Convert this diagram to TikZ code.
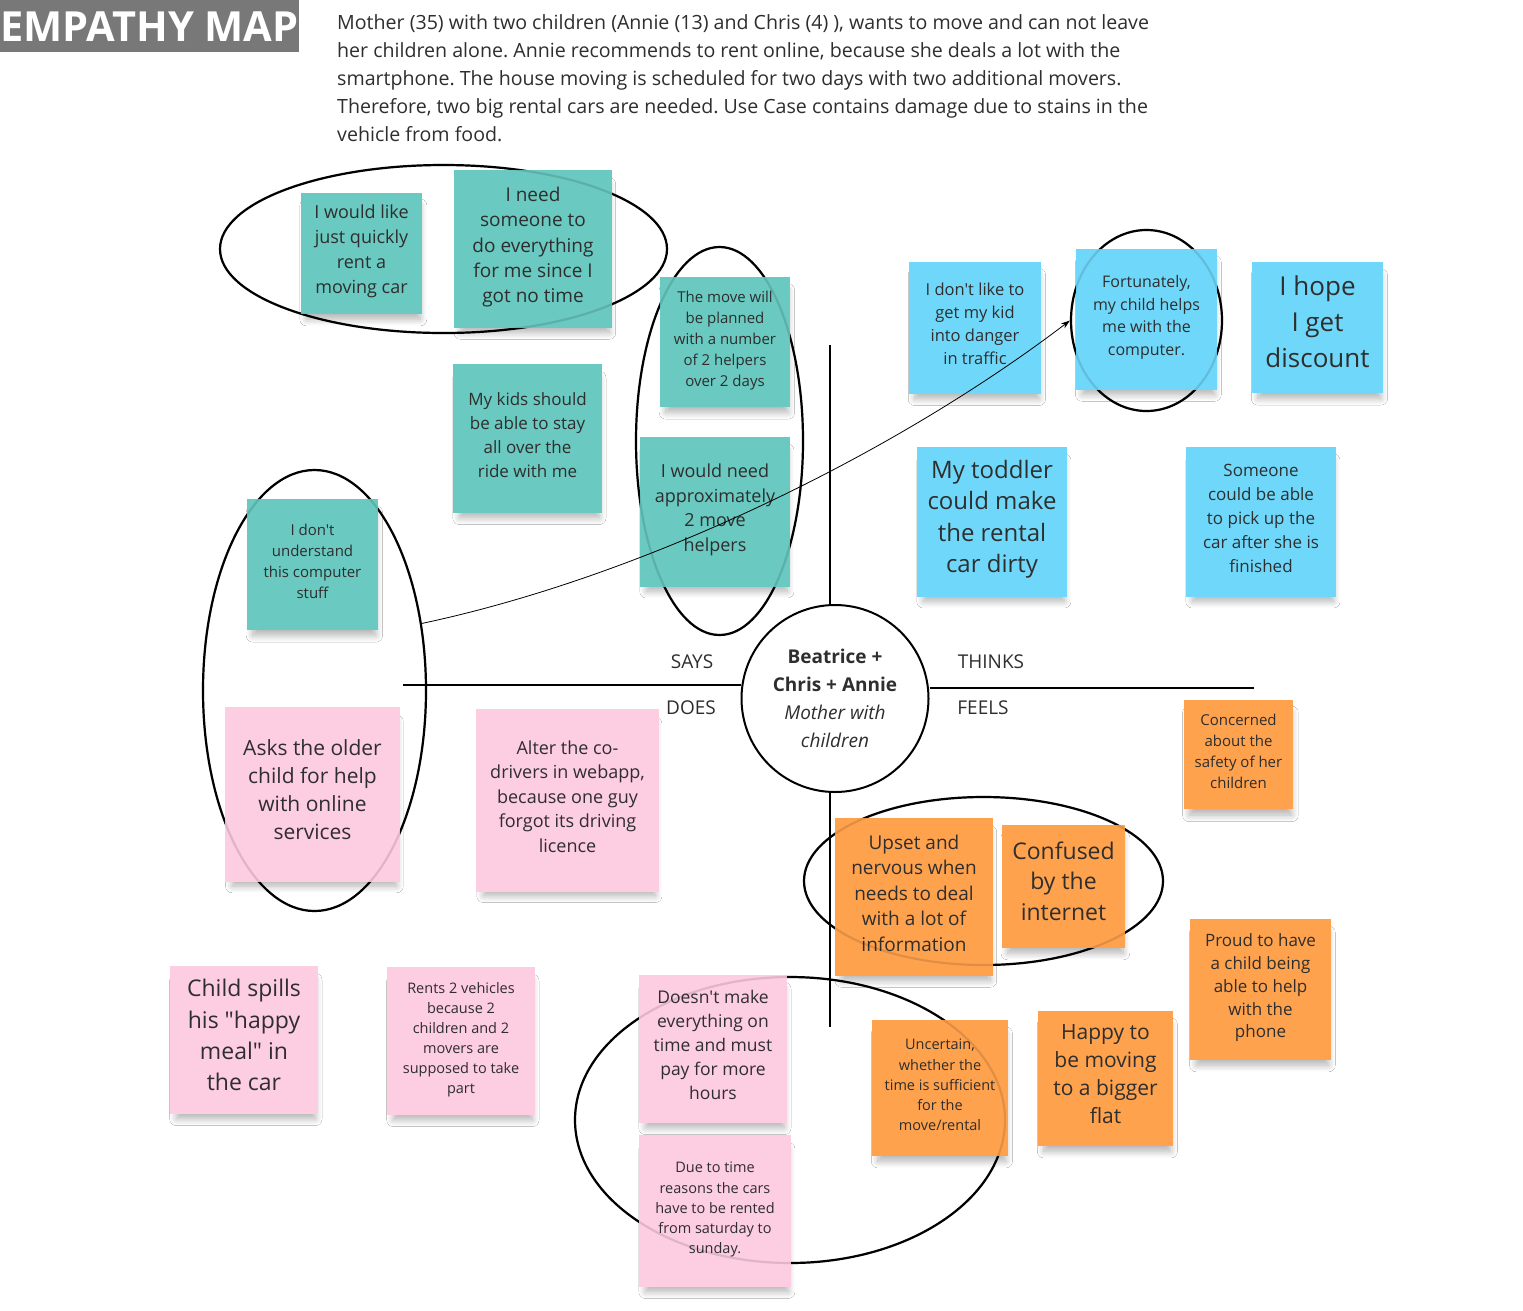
\documentclass[tikz,border=0pt]{standalone}
\usepackage{fontspec}
\setmainfont{Open Sans}[Ligatures=TeXOff]
\usetikzlibrary{shapes.geometric,arrows.meta,shadows.blur}
\definecolor{tealnote}{HTML}{6AC9C0}
\definecolor{bluenote}{HTML}{6FD8FA}
\definecolor{pinknote}{HTML}{FDCDE2}
\definecolor{orangenote}{HTML}{FFA24D}
\definecolor{ink}{HTML}{2E2E2E}
\definecolor{titlegray}{HTML}{787878}
\newcommand{\fsz}[2]{\fontsize{#1}{#2}\selectfont}
\frenchspacing
\begin{document}
\begin{tikzpicture}[x=1pt,y=-1pt,
  sticky/.style={minimum size=#1, inner sep=0pt, align=center, text=ink,
    blur shadow={shadow xshift=2pt, shadow yshift=-10pt, shadow opacity=30, shadow scale=0.94, shadow blur radius=7pt, shadow blur steps=12}},
  fnt/.style 2 args={font=\fsz{#1}{#2}, text depth={0.43*#1 pt}},
  tealst/.style={sticky=#1, fill=tealnote},
  bluest/.style={sticky=#1, fill=bluenote},
  pinkst/.style={sticky=#1, fill=pinknote},
  orangest/.style={sticky=#1, fill=orangenote},
  ring/.style={ellipse, draw=black, line width=2.2pt, inner sep=0pt},
  ghost/.style={draw opacity=0.12},
  ringA/.style={ring, minimum width=447, minimum height=168},
  ringB/.style={ring, minimum width=167, minimum height=388},
  ringC/.style={ring, minimum width=223, minimum height=441},
  ringD/.style={ring, minimum width=151, minimum height=181},
  ringE/.style={ring, minimum width=359, minimum height=168},
  ringF/.style={ring, minimum width=430, minimum height=286},
  axis/.style={draw=black, line width=1.8pt},
  quad/.style={font=\fsz{19}{22}, text=ink},
]
\useasboundingbox (0,0) rectangle (1523,1310);
\fill[white] (0,0) rectangle (1523,1310);

% title and description
\node[fill=titlegray, text=white, font=\fsz{41.5}{41}\bfseries, minimum width=298, minimum height=52, inner sep=0pt, anchor=north west] (title) at (0,0) {EMPATHY MAP};
\node[anchor=west, align=left, text=ink, font=\fsz{19.6}{28}, inner sep=0pt] (desc) at (337,78) {Mother (35) with two children (Annie (13) and Chris (4) ), wants to move and can not leave\\her children alone. Annie recommends to rent online, because she deals a lot with the\\smartphone. The house moving is scheduled for two days with two additional movers.\\Therefore, two big rental cars are needed. Use Case contains damage due to stains in the\\vehicle from food.};

% ellipses
\node[ringA] (e1) at (443.5,249) {};
\node[ringB] (e2) at (719.5,441) {};
\node[ringC] (e3) at (314.5,690.5) {};
\node[ringD] (e4) at (1146.5,320.5) {};
\node[ringE] (e5) at (983.5,881) {};
\node[ringF] (e6) at (790,1120) {};

% axes and centre
\node[circle, draw=black, line width=2pt, fill=white, minimum size=187, inner sep=0pt, align=center, text=ink, font=\fsz{19}{28}] (c) at (835,698.5) {\textbf{Beatrice +}\\\textbf{Chris + Annie}\\\textit{Mother with}\\\textit{children}};
\coordinate (vt) at (830,345);
\coordinate (vb) at (830,1027);
\coordinate (hl) at (403,685);
\coordinate (hr) at (1254,688);
\draw[axis] (vt) -- (vt |- c.north);
\draw[axis] (vb) -- (vb |- c.south);
\draw[axis] (hl) -- (hl -| c.west);
\draw[axis] (hr -| c.east) -- (hr);
\node[quad] (says) at (692,662) {SAYS};
\node[quad] (thinks) at (991,662) {THINKS};
\node[quad] (does) at (691,708) {DOES};
\node[quad] (feels) at (983,708) {FEELS};

% SAYS
\node[tealst=121, fnt={18}{25}] (n1) at (361.5,253) {I would like\\just quickly\\rent a\\moving car};
\node[tealst=158, fnt={19}{25.3}] (n2) at (533,249) {I need\\someone to\\do everything\\for me since I\\got no time};
\node[tealst=130, fnt={15}{21}] (n3) at (725,342) {The move will\\be planned\\with a number\\of 2 helpers\\over 2 days};
\node[tealst=149, fnt={17}{24}] (n4) at (527.5,438.5) {My kids should\\be able to stay\\all over the\\ride with me};
\node[tealst=150, fnt={18}{24.5}] (n5) at (715,511.5) {I would need\\approximately\\2 move\\helpers};
\node[tealst=131, fnt={15}{21}] (n6) at (312.5,564.5) {I don't\\understand\\this computer\\stuff};

% THINKS
\node[bluest=132, fnt={16.5}{23}] (n7) at (975,327.5) {I don't like to\\get my kid\\into danger\\in traffic};
\node[bluest=141, fnt={16}{22.7}] (n8) at (1146.5,319) {Fortunately,\\my child helps\\me with the\\computer.};
\node[bluest=131, fnt={26}{36}] (n9) at (1317.5,327.5) {I hope\\I get\\discount};
\node[bluest=150, fnt={24}{31.3}] (n10) at (992,521.5) {My toddler\\could make\\the rental\\car dirty};
\node[bluest=150, fnt={17}{24}] (n11) at (1261,521.5) {Someone\\could be able\\to pick up the\\car after she is\\finished};

% DOES
\node[pinkst=175, fnt={21}{28}] (n12) at (312.5,794.5) {Asks the older\\child for help\\with online\\services};
\node[pinkst=183, fnt={18}{24.5}] (n13) at (567.5,800.5) {Alter the co-\\drivers in webapp,\\because one guy\\forgot its driving\\licence};
\node[pinkst=148, fnt={23}{31.3}] (n14) at (244,1040) {Child spills\\his "happy\\meal" in\\the car};
\node[pinkst=148, fnt={14.5}{20}] (n15) at (461,1041) {Rents 2 vehicles\\because 2\\children and 2\\movers are\\supposed to take\\part};
\node[pinkst=148, fnt={17.5}{24}] (n16) at (713,1049) {Doesn't make\\everything on\\time and must\\pay for more\\hours};
\node[pinkst=152, fnt={14.5}{20.2}] (n17) at (715,1211) {Due to time\\reasons the cars\\have to be rented\\from saturday to\\sunday.};

% FEELS
\node[orangest=109, fnt={15}{21}] (n18) at (1238.5,754.5) {Concerned\\about the\\safety of her\\children};
\node[orangest=158, fnt={19}{25.5}] (n19) at (914,897) {Upset and\\nervous when\\needs to deal\\with a lot of\\information};
\node[orangest=123, fnt={23}{30.5}] (n20) at (1063.5,886) {Confused\\by the\\internet};
\node[orangest=141, fnt={17}{22.8}] (n21) at (1260.5,989.5) {Proud to have\\a child being\\able to help\\with the\\phone};
\node[orangest=136, fnt={14.5}{20.2}] (n22) at (940,1088) {Uncertain,\\whether the\\time is sufficient\\for the\\move/rental};
\node[orangest=135, fnt={21}{28.3}] (n23) at (1105.5,1078.5) {Happy to\\be moving\\to a bigger\\flat};

% ellipse lines faintly seen through the notes
\node[ringA, ghost] (g1) at (e1.center) {};
\node[ringB, ghost] (g2) at (e2.center) {};
\node[ringC, ghost] (g3) at (e3.center) {};
\node[ringD, ghost] (g4) at (e4.center) {};
\node[ringE, ghost] (g5) at (e5.center) {};
\node[ringF, ghost] (g6) at (e6.center) {};

% connector
\draw[line width=0.8pt, -{Stealth[length=9pt,width=6pt]}] (e3.32) .. controls (650,575) and (900,450) .. (e4.west);
\end{tikzpicture}
\end{document}
